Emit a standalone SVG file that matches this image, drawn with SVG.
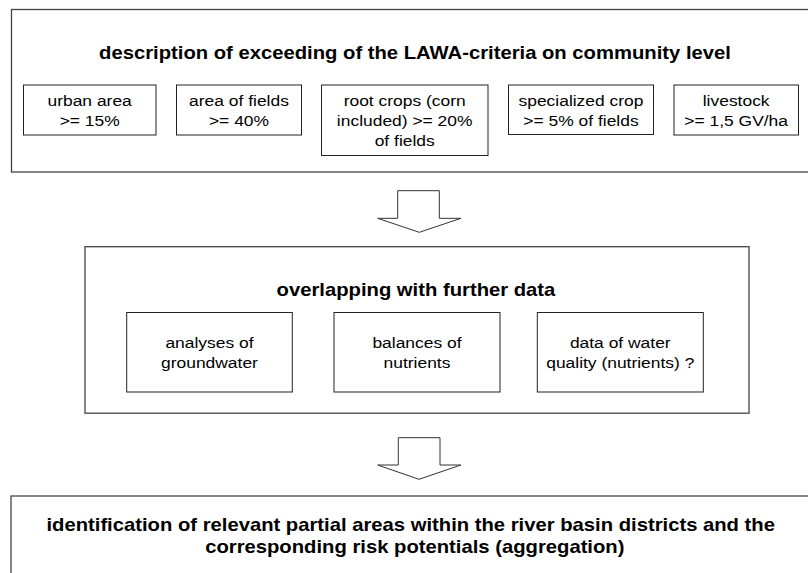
<svg xmlns="http://www.w3.org/2000/svg" width="808" height="573" viewBox="0 0 808 573">
  <style>
    .frame { fill: #ffffff; stroke: #444444; stroke-width: 1.3; }
    .box { fill: #ffffff; stroke: #222222; stroke-width: 1; }
    .flow { fill: #ffffff; stroke: #333333; stroke-width: 1; stroke-linejoin: miter; }
    text { font-family: "Liberation Sans", Arial, Helvetica, sans-serif; fill: #000000; text-anchor: middle;
           transform-box: fill-box; transform-origin: center; transform: scaleX(1.125); }
    .h { font-size: 18px; font-weight: bold; }
    .t { font-size: 15.5px; }
  </style>
  <rect width="808" height="573" fill="#ffffff"/>

  <!-- stage 1: criteria on community level -->
  <g id="stage-criteria">
    <rect class="frame" x="11.5" y="9.5" width="810" height="162.5"/>
    <text class="h" x="415" y="59">description of exceeding of the LAWA-criteria on community level</text>
  </g>
  <g id="crit-urban">
    <rect class="box" x="23.5" y="85" width="132.5" height="50"/>
    <text class="t" x="89.7" y="106">urban area</text>
    <text class="t" x="89.7" y="126">&gt;= 15%</text>
  </g>
  <g id="crit-fields">
    <rect class="box" x="176.5" y="85" width="125" height="50"/>
    <text class="t" x="239" y="106">area of fields</text>
    <text class="t" x="239" y="126">&gt;= 40%</text>
  </g>
  <g id="crit-rootcrops">
    <rect class="box" x="321.5" y="85" width="166.5" height="70.5"/>
    <text class="t" x="404.7" y="106">root crops (corn</text>
    <text class="t" x="404.7" y="126">included) &gt;= 20%</text>
    <text class="t" x="404.7" y="146">of fields</text>
  </g>
  <g id="crit-special">
    <rect class="box" x="508.5" y="85" width="145" height="49.5"/>
    <text class="t" x="581" y="106">specialized crop</text>
    <text class="t" x="581" y="126">&gt;= 5% of fields</text>
  </g>
  <g id="crit-livestock">
    <rect class="box" x="674" y="85" width="124.5" height="50"/>
    <text class="t" x="736.2" y="106">livestock</text>
    <text class="t" x="736.2" y="126">&gt;= 1,5 GV/ha</text>
  </g>

  <!-- stage 2: overlapping with further data -->
  <g id="stage-overlap">
    <rect class="frame" x="85" y="246.7" width="664" height="166.5"/>
    <text class="h" x="416" y="296">overlapping with further data</text>
  </g>
  <g id="data-groundwater">
    <rect class="box" x="126.7" y="312.5" width="165.6" height="79.5"/>
    <text class="t" x="209.5" y="348">analyses of</text>
    <text class="t" x="209.5" y="368">groundwater</text>
  </g>
  <g id="data-nutrients">
    <rect class="box" x="334" y="312.5" width="166" height="79.5"/>
    <text class="t" x="417" y="348">balances of</text>
    <text class="t" x="417" y="368">nutrients</text>
  </g>
  <g id="data-waterquality">
    <rect class="box" x="537.3" y="312.5" width="166" height="79.5"/>
    <text class="t" x="620.3" y="348">data of water</text>
    <text class="t" x="620.3" y="368">quality (nutrients) ?</text>
  </g>

  <!-- stage 3: identification / aggregation -->
  <g id="stage-identification">
    <rect class="frame" x="11" y="496" width="810" height="90"/>
    <text class="h" x="410.7" y="531.5">identification of relevant partial areas within the river basin districts and the</text>
    <text class="h" x="414.8" y="553.5">corresponding risk potentials (aggregation)</text>
  </g>

  <!-- block arrows between the stages -->
  <g id="connectors">
    <polygon class="flow" points="397.7,190.7 439.3,190.7 439.3,218.3 461,218.3 419.3,232.3 377.7,218.3 397.7,218.3"/>
    <polygon class="flow" points="398.3,437.7 440,437.7 440,465 461,465 419,479.3 377.7,465 398.3,465"/>
  </g>
</svg>
